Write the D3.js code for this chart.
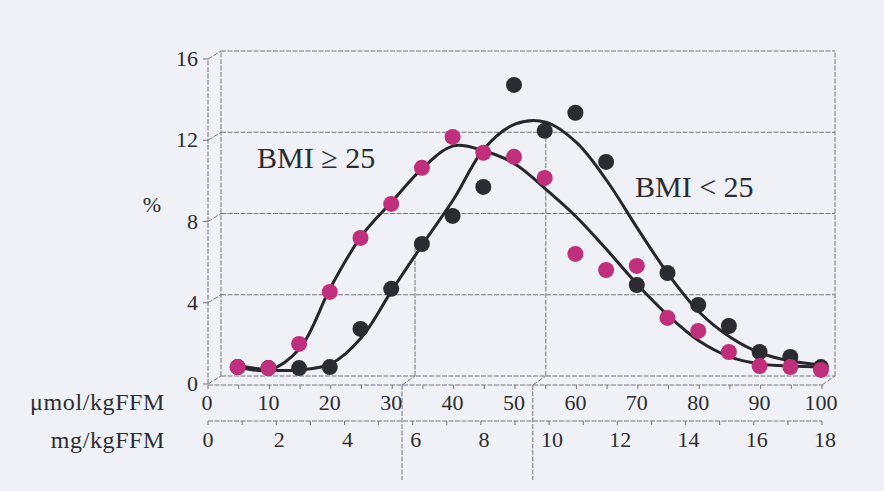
<!DOCTYPE html>
<html>
<head>
<meta charset="utf-8">
<script src="https://cdn.jsdelivr.net/npm/d3@7"></script>
<style>
  body { margin: 0; background: #eff1f6; }
  svg { display: block; }
  text { font-family: "Liberation Serif", "DejaVu Serif", serif; fill: #2c2c31; }
</style>
</head>
<body>
<script>
  // data
  var doseUmol = [5, 10, 15, 20, 25, 30, 35, 40, 45, 50, 55, 60, 65, 70, 75, 80, 85, 90, 95, 100];
  var bmiHigh = [0.44, 0.39, 1.58, 4.14, 6.8, 8.47, 10.25, 11.77, 10.99, 10.79, 9.75, 6.01, 5.22, 5.42, 2.86, 2.22, 1.18, 0.49, 0.44, 0.3];
  var bmiLow = [0.44, 0.39, 0.39, 0.44, 2.32, 4.29, 6.5, 7.88, 9.31, 14.33, 12.07, 12.96, 10.54, 4.48, 5.07, 3.5, 2.46, 1.18, 0.94, 0.44];
  // fitted curves, same x positions
  var fitHigh = [0.44, 0.3, 1.38, 4.38, 6.9, 8.6, 10.25, 11.33, 11.08, 10.44, 9.2, 7.83, 6.2, 4.48, 2.96, 1.72, 0.94, 0.59, 0.49, 0.44];
  var fitLow = [0.5, 0.3, 0.3, 0.6, 1.9, 4.24, 6.5, 8.7, 11.2, 12.4, 12.5, 11.5, 9.6, 7.24, 5.0, 3.15, 1.92, 1.13, 0.74, 0.54];
  var yTicks = [0, 4, 8, 12, 16];
  var umolTicks = [0, 10, 20, 30, 40, 50, 60, 70, 80, 90, 100];
  var mgTicks = [0, 2, 4, 6, 8, 10, 12, 14, 16, 18];
  var cutoffs = [31.6, 52.9];       // vertical marker lines (umol)
  var cutoffTops = [6.5, 12];       // where they stop on the back wall

  var W = 884, H = 491;
  var svg = d3.select("body").append("svg")
    .attr("width", W)
    .attr("height", H);

  // front plane scales + offset for the back wall
  var x = d3.scaleLinear().domain([0, 100]).range([208, 822]);
  var xMg = d3.scaleLinear().domain([0, 18]).range([208, 822]);
  var yF = d3.scaleLinear().domain([0, 16]).range([384, 59]);
  var dx = 13, dy = -8;
  var yB = function(v){ return yF(v) + dy; };
  var axisY = 385, mgY = 421;

  var grid = svg.append("g")
    .attr("fill", "none")
    .attr("stroke", "#76767c")
    .attr("stroke-width", 1)
    .attr("stroke-dasharray", "5,1.5");

  // back wall: horizontal lines, sides
  grid.selectAll(".hl").data(yTicks).enter().append("line")
    .attr("x1", x(0) + dx).attr("x2", x(100) + dx)
    .attr("y1", function(d){ return yB(d); })
    .attr("y2", function(d){ return yB(d); });
  grid.selectAll(".vl").data([0, 100]).enter().append("line")
    .attr("x1", function(d){ return x(d) + dx; })
    .attr("x2", function(d){ return x(d) + dx; })
    .attr("y1", yB(0)).attr("y2", yB(16));

  // front y axis + connectors to the wall
  grid.append("line").attr("x1", x(0)).attr("x2", x(0)).attr("y1", yF(0)).attr("y2", yF(16));
  grid.selectAll(".dg").data(yTicks).enter().append("line")
    .attr("x1", x(0)).attr("y1", function(d){ return yF(d); })
    .attr("x2", x(0) + dx).attr("y2", function(d){ return yB(d); });
  grid.selectAll(".yt").data(yTicks).enter().append("line")
    .attr("stroke-dasharray", null)
    .attr("x1", x(0) - 5).attr("x2", x(0))
    .attr("y1", function(d){ return yF(d); })
    .attr("y2", function(d){ return yF(d); });

  // front x axes
  grid.append("line").attr("x1", x(0)).attr("x2", x(100)).attr("y1", axisY).attr("y2", axisY);
  grid.append("line").attr("x1", x(100)).attr("y1", axisY).attr("x2", x(100) + dx).attr("y2", yB(0));
  grid.selectAll(".xt").data(d3.range(0, 101, 5)).enter().append("line")
    .attr("stroke-dasharray", null)
    .attr("x1", function(d){ return x(d); })
    .attr("x2", function(d){ return x(d); })
    .attr("y1", axisY).attr("y2", axisY + 4);
  grid.append("line").attr("x1", xMg(0)).attr("x2", xMg(18)).attr("y1", mgY).attr("y2", mgY);
  grid.selectAll(".mt").data(d3.range(0, 19, 1)).enter().append("line")
    .attr("stroke-dasharray", null)
    .attr("x1", function(d){ return xMg(d); })
    .attr("x2", function(d){ return xMg(d); })
    .attr("y1", mgY).attr("y2", mgY + 4);

  // cut-off lines
  cutoffs.forEach(function(c, i){
    grid.append("line").attr("x1", x(c)).attr("x2", x(c)).attr("y1", axisY).attr("y2", 480);
    grid.append("line").attr("x1", x(c)).attr("y1", axisY).attr("x2", x(c) + dx).attr("y2", yB(0));
    grid.append("line").attr("x1", x(c) + dx).attr("x2", x(c) + dx)
      .attr("y1", yB(0)).attr("y2", yB(cutoffTops[i]));
  });

  // fitted curves
  var line = d3.line()
    .x(function(d, i){ return x(doseUmol[i]); })
    .y(function(d){ return yB(d); })
    .curve(d3.curveCatmullRom.alpha(0.5));

  svg.append("path").datum(fitLow)
    .attr("d", line).attr("fill", "none")
    .attr("stroke", "#26262b").attr("stroke-width", 3);
  svg.append("path").datum(fitHigh)
    .attr("d", line).attr("fill", "none")
    .attr("stroke", "#26262b").attr("stroke-width", 3);

  // points
  svg.selectAll(".lo").data(bmiLow).enter().append("circle")
    .attr("cx", function(d, i){ return x(doseUmol[i]) - 1; })
    .attr("cy", function(d){ return yB(d); })
    .attr("r", 8)
    .attr("fill", "#2b2b31");
  svg.selectAll(".hi").data(bmiHigh).enter().append("circle")
    .attr("cx", function(d, i){ return x(doseUmol[i]) - 1; })
    .attr("cy", function(d){ return yB(d); })
    .attr("r", 8)
    .attr("fill", "#bf2f7c");

  // tick labels
  svg.selectAll(".yl").data(yTicks).enter().append("text")
    .attr("x", 198).attr("y", function(d){ return yF(d) + 7; })
    .attr("text-anchor", "end").attr("font-size", 22)
    .text(function(d){ return d; });
  svg.selectAll(".ul").data(umolTicks).enter().append("text")
    .attr("x", function(d){ return x(d) - 1; }).attr("y", 410)
    .attr("text-anchor", "middle").attr("font-size", 22)
    .text(function(d){ return d; });
  svg.selectAll(".gl").data(mgTicks).enter().append("text")
    .attr("x", function(d){ return xMg(d) + (d === 0 ? 0 : 3); }).attr("y", 447)
    .attr("text-anchor", "middle").attr("font-size", 22)
    .text(function(d){ return d; });

  // axis titles and labels
  svg.append("text").attr("x", 165).attr("y", 410).attr("text-anchor", "end")
    .attr("font-size", 24).attr("letter-spacing", 0.6).text("μmol/kgFFM");
  svg.append("text").attr("x", 165).attr("y", 448).attr("text-anchor", "end")
    .attr("font-size", 24).attr("letter-spacing", 0.6).text("mg/kgFFM");
  svg.append("text").attr("x", 152).attr("y", 212).attr("text-anchor", "middle")
    .attr("font-size", 22).text("%");
  svg.append("text").attr("x", 257).attr("y", 168)
    .attr("font-size", 30).text("BMI ≥ 25");
  svg.append("text").attr("x", 635).attr("y", 197)
    .attr("font-size", 30).text("BMI < 25");
</script>
</body>
</html>
